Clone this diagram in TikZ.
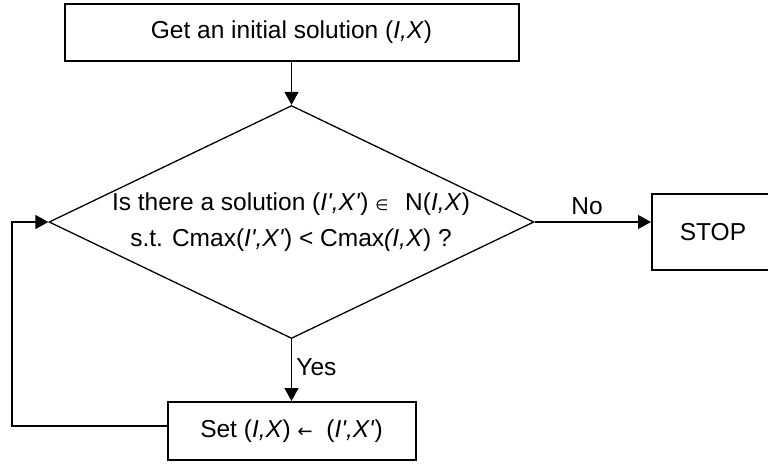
\documentclass[tikz,border=0pt]{standalone}
\usepackage{fontspec}
\newfontfamily\arial{Liberation Sans}
\newfontfamily\symf{DejaVu Sans}
\usetikzlibrary{shapes.geometric,arrows.meta,calc}
\newcommand{\elem}{{\symf\fontsize{15}{15}\selectfont ∈}}
\newcommand{\getarrow}{{\symf\fontsize{18}{18}\selectfont ←}}
\tikzset{
  txt/.style={font=\arial\fontsize{24.5}{36}\selectfont, text=black},
  boxnode/.style={txt, draw=black, line width=2pt, rectangle, inner sep=0pt},
  decnode/.style={draw=black, line width=1.3pt, diamond, inner sep=0pt},
  flow/.style={draw=black, line width=1.3pt, -{Triangle[length=13pt,width=14pt]}},
  plain/.style={draw=black, line width=1.3pt}
}
\begin{document}
\begin{tikzpicture}[x=1pt,y=-1pt]
\clip (0,0) rectangle (768,464);
\node[boxnode, minimum width=454pt, minimum height=57pt] (top) at (291.5,32.5) {Get an initial solution (\textit{I,X})};
\node[decnode, minimum width=485pt, minimum height=233pt] (dec) at (291.5,222) {};
\node[txt, align=center] (dectext) at (291,222) {Is there a solution (\textit{I',X'}) \elem\hspace{10pt} N(\textit{I,X})\\ s.t. Cmax(\textit{I',X'}) < Cmax\textit{(I,X}) ?};
\node[boxnode, minimum width=122pt, minimum height=76pt] (stop) at (713,232) {STOP};
\node[boxnode, minimum width=248pt, minimum height=58pt] (set) at (291.5,431) {Set (\textit{I,X}) \getarrow\ \ (\textit{I',X'})};
\coordinate (loop) at (12,426);
\draw[flow] (top.south) -- (dec.north);
\draw[flow] (dec.east) -- (dec.east -| stop.west) node[txt, pos=0.45, above=3pt] (nolab) {No};
\draw[flow] (dec.south) -- (set.north) node[txt, pos=0.45, right=1pt] (yeslab) {Yes};
\draw[flow] ($(set.west)+(0,-5)$) -- (loop) |- (dec.west);
\end{tikzpicture}
\end{document}
